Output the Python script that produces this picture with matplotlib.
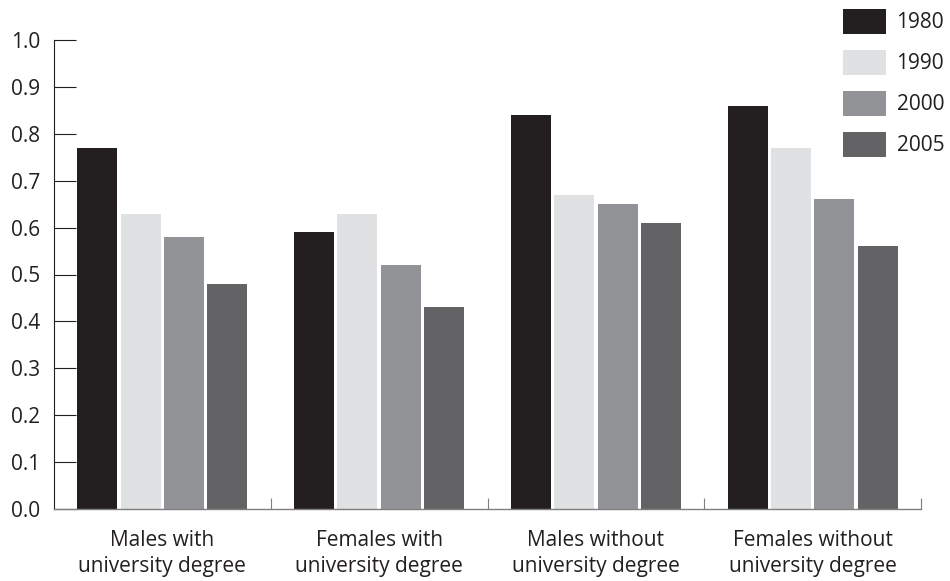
import matplotlib.pyplot as plt
import numpy as np

plt.rcParams['font.family'] = ['Open Sans', 'DejaVu Sans']

# data
groups = ["Males with\nuniversity degree", "Females with\nuniversity degree",
          "Males without\nuniversity degree", "Females without\nuniversity degree"]
years = ["1980", "1990", "2000", "2005"]
v1980 = [0.77, 0.59, 0.84, 0.86]
v1990 = [0.63, 0.63, 0.67, 0.77]
v2000 = [0.58, 0.52, 0.65, 0.66]
v2005 = [0.48, 0.43, 0.61, 0.56]
colors = ["#231f20", "#e0e1e3", "#929396", "#636365"]
yticks = [0.0, 0.1, 0.2, 0.3, 0.4, 0.5, 0.6, 0.7, 0.8, 0.9, 1.0]

fig = plt.figure(figsize=(9.5, 5.81), dpi=100)
ax = fig.add_axes([54 / 950, 1 - 509 / 581, (921 - 54) / 950, (509 - 40) / 581])

x = np.arange(len(groups)) + 0.5
offsets = [-0.3, -0.1, 0.1, 0.3]
handles = []
for vals, off, c, yr in zip([v1980, v1990, v2000, v2005], offsets, colors, years):
    h = ax.bar(x + off, vals, width=0.185, color=c, label=yr, zorder=2)
    handles.append(h)

ax.set_xlim(0, len(groups))
ax.set_ylim(0, 1.0)
ax.set_yticks(yticks)
ax.set_yticklabels([f"{t:.1f}" for t in yticks])
ax.tick_params(axis='y', direction='in', length=16, width=0.8, color='#231f20',
               pad=10, labelsize=15, labelcolor='#231f20')

ax.set_xticks(x)
ax.set_xticklabels(groups, linespacing=1.35)
ax.tick_params(axis='x', which='major', length=0, pad=15, labelsize=15,
               labelcolor='#231f20')
ax.set_xticks(np.arange(1, len(groups) + 1), minor=True)
ax.tick_params(axis='x', which='minor', direction='in', length=8, width=0.8,
               color='#7f7f7f')

for s in ['top', 'right']:
    ax.spines[s].set_visible(False)
ax.spines['left'].set_color('#231f20')
ax.spines['left'].set_linewidth(0.8)
ax.spines['bottom'].set_color('#7f7f7f')
ax.spines['bottom'].set_linewidth(1.0)

ax.legend(handles=handles, loc='upper left', bbox_to_anchor=(843 / 950, 1 - 9 / 581),
          bbox_transform=fig.transFigure, frameon=False, fontsize=15,
          handlelength=2.07, handleheight=1.47, labelspacing=0.76,
          handletextpad=0.5, borderpad=0, borderaxespad=0,
          labelcolor='#231f20')

fig.savefig("out.png", dpi=100)
